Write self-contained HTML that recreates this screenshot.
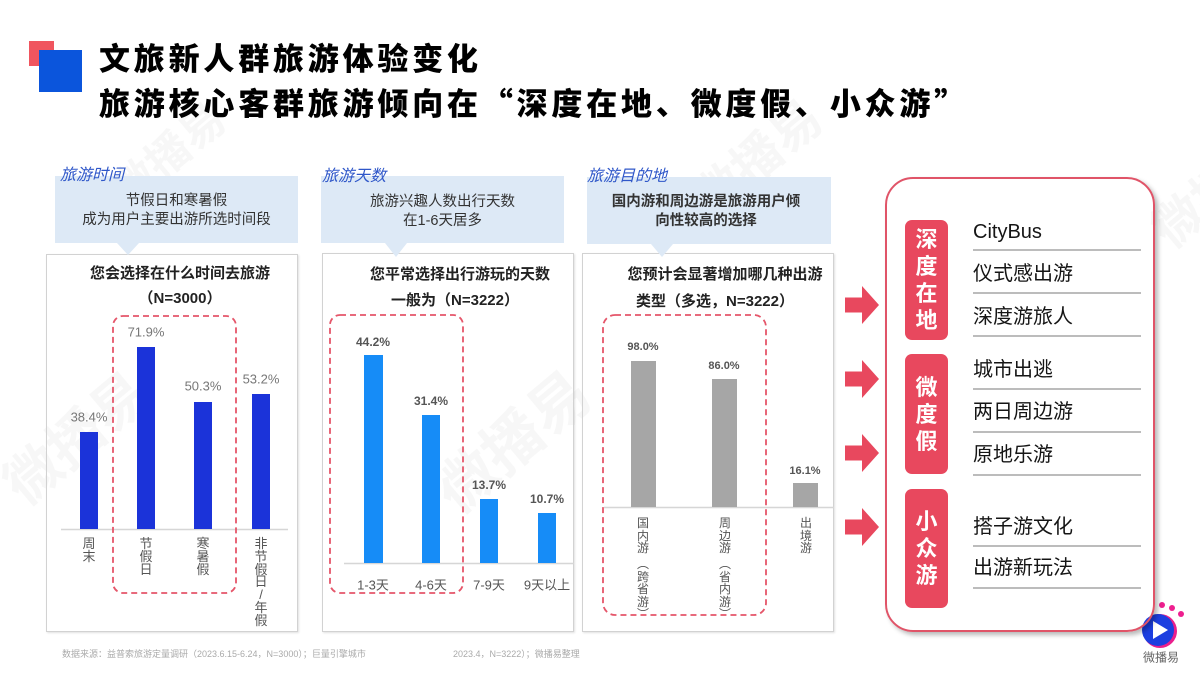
<!DOCTYPE html>
<html><head><meta charset="utf-8">
<style>
*{margin:0;padding:0;box-sizing:border-box}
html,body{width:1200px;height:675px;background:#fff;overflow:hidden}
body{position:relative;font-family:"Liberation Sans","Noto Sans CJK SC",sans-serif;color:#222}
.a{position:absolute;white-space:nowrap}
.c{position:absolute;white-space:nowrap;transform:translate(-50%,-50%)}
.title{position:absolute;left:99px;font-size:31px;font-weight:900;letter-spacing:3.8px;color:#000;line-height:36px;white-space:nowrap}
.q{font-family:"Noto Sans CJK SC",sans-serif}
.lab{position:absolute;font-size:16px;font-style:italic;color:#2f57c9;white-space:nowrap;line-height:20px}
.bbox{position:absolute;background:#dde9f6}
.btxt{position:absolute;font-size:14.5px;color:#333;text-align:center;line-height:19px;white-space:nowrap}
.cbox{position:absolute;border:1.5px solid #d2d2d2;box-shadow:1px 1px 2px rgba(0,0,0,0.12)}
.ct{position:absolute;font-size:15px;font-weight:bold;color:#222;text-align:center;white-space:nowrap;transform:translateX(-50%)}
.v{position:absolute;font-size:13px;color:#555;line-height:12.8px;width:16px;text-align:center;transform:translateX(-50%)}
.v3{position:absolute;font-size:12px;color:#555;line-height:12.5px;width:16px;text-align:center;transform:translateX(-50%)}
.d1{font-size:13px;color:#777}
.d2{font-size:12px;color:#555;font-weight:bold}
.d3{font-size:11px;color:#555;font-weight:bold}
.rbox{position:absolute;left:885px;top:177px;width:270px;height:455px;border:2px solid #e05468;border-radius:28px;box-shadow:3px 3px 5px rgba(0,0,0,0.28);background:transparent}
.tag{position:absolute;left:905px;width:43px;background:#e8485e;border-radius:7px;color:#fff;font-size:22px;font-weight:bold;display:flex;flex-direction:column;align-items:center;justify-content:center;line-height:27px}
.it{position:absolute;left:973px;font-size:20px;color:#151515;line-height:24px;white-space:nowrap}
.ul{position:absolute;left:973px;width:168px;height:2px;background:#bcbcbc}
.wm{position:absolute;color:rgba(0,0,0,0.03);font-weight:bold;white-space:nowrap;transform:rotate(-40deg)}
</style></head><body>

<!-- watermarks -->
<div class="wm" style="left:-10px;top:395px;font-size:56px">微播易</div>
<div class="wm" style="left:420px;top:395px;font-size:60px">微播易</div>
<div class="wm" style="left:680px;top:120px;font-size:50px">微播易</div>
<div class="wm" style="left:1140px;top:150px;font-size:50px">微播易</div>
<div class="wm" style="left:100px;top:120px;font-size:44px">微播易</div>

<!-- title -->
<div class="a" style="left:29px;top:41px;width:25px;height:25px;background:#f0555f"></div>
<div class="a" style="left:39px;top:50px;width:43px;height:42px;background:#0b55dc"></div>
<div class="title" style="top:42px">文旅新人群旅游体验变化</div>
<div class="title" style="top:84px">旅游核心客群旅游倾向在<span class="q">“</span>深度在地、微度假、小众游<span class="q">”</span></div>

<!-- panel 1 -->
<div class="bbox" style="left:55px;top:176px;width:243px;height:67px"></div>
<div class="lab" style="left:60px;top:166px">旅游时间</div>
<div class="btxt" style="left:55px;width:243px;top:192px">节假日和寒暑假<br>成为用户主要出游所选时间段</div>
<div class="cbox" style="left:46px;top:254px;width:252px;height:378px"></div>
<div class="ct" style="left:180px;top:262px">您会选择在什么时间去旅游</div>
<div class="ct" style="left:180px;top:287px">（N=3000）</div>

<!-- panel 2 -->
<div class="bbox" style="left:321px;top:176px;width:243px;height:67px"></div>
<div class="lab" style="left:322px;top:167px">旅游天数</div>
<div class="btxt" style="left:321px;width:243px;top:193px">旅游兴趣人数出行天数<br>在1-6天居多</div>
<div class="cbox" style="left:322px;top:253px;width:252px;height:379px"></div>
<div class="ct" style="left:460px;top:263px">您平常选择出行游玩的天数</div>
<div class="ct" style="left:455px;top:289px">一般为（N=3222）</div>

<!-- panel 3 -->
<div class="bbox" style="left:587px;top:177px;width:244px;height:67px"></div>
<div class="lab" style="left:587px;top:167px">旅游目的地</div>
<div class="btxt" style="left:587px;width:238px;top:193px;font-weight:bold;color:#333">国内游和周边游是旅游用户倾<br>向性较高的选择</div>
<div class="cbox" style="left:582px;top:253px;width:252px;height:379px"></div>
<div class="ct" style="left:725px;top:263px">您预计会显著增加哪几种出游</div>
<div class="ct" style="left:715px;top:290px">类型（多选，N=3222）</div>

<svg class="a" style="left:0;top:0" width="1200" height="675" viewBox="0 0 1200 675">
  <polygon points="117,243 139,243 128,255" fill="#dde9f6"/>
  <polygon points="385,243 407,243 396,257" fill="#dde9f6"/>
  <polygon points="651,244 673,244 662,257" fill="#dde9f6"/>
  <line x1="61" y1="529.5" x2="288" y2="529.5" stroke="#d6d6d6" stroke-width="1.5"/>
  <line x1="344" y1="563.5" x2="574" y2="563.5" stroke="#d6d6d6" stroke-width="1.5"/>
  <line x1="604" y1="507.5" x2="834" y2="507.5" stroke="#d6d6d6" stroke-width="1.5"/>
  <g fill="#1b33d9">
    <rect x="80" y="432" width="18" height="97"/>
    <rect x="137" y="347" width="18" height="182"/>
    <rect x="194" y="402" width="18" height="127"/>
    <rect x="252" y="394" width="18" height="135"/>
  </g>
  <g fill="#168cf7">
    <rect x="364" y="355" width="19" height="208"/>
    <rect x="422" y="415" width="18" height="148"/>
    <rect x="480" y="499" width="18" height="64"/>
    <rect x="538" y="513" width="18" height="50"/>
  </g>
  <g fill="#a6a6a6">
    <rect x="631" y="361" width="25" height="146"/>
    <rect x="712" y="379" width="25" height="128"/>
    <rect x="793" y="483" width="25" height="24"/>
  </g>
  <g fill="none" stroke="#e5566a" stroke-width="1.8" stroke-dasharray="6 4">
    <rect x="113" y="316" width="123" height="277" rx="10"/>
    <rect x="330" y="315" width="133" height="278" rx="10"/>
    <rect x="603" y="315" width="163" height="300" rx="12"/>
  </g>
  <g fill="#e8485e">
    <polygon points="845,297.5 862,297.5 862,286 879,305 862,324 862,312.5 845,312.5"/>
    <polygon points="845,371.5 862,371.5 862,360 879,379 862,398 862,386.5 845,386.5"/>
    <polygon points="845,445.5 862,445.5 862,434 879,453 862,472 862,460.5 845,460.5"/>
    <polygon points="845,519.5 862,519.5 862,508 879,527 862,546 862,534.5 845,534.5"/>
  </g>
  <circle cx="1160" cy="631" r="17" fill="#ea1f8c"/>
  <circle cx="1158" cy="630" r="16" fill="#1d3fe0"/>
  <polygon points="1153,621 1153,639 1168,630" fill="#fff"/>
  <circle cx="1162" cy="605" r="3" fill="#ee1f8f"/>
  <circle cx="1172" cy="608" r="3" fill="#ee1f8f"/>
  <circle cx="1181" cy="614" r="3" fill="#ee1f8f"/>
</svg>

<div class="c d1" style="left:89px;top:417px">38.4%</div>
<div class="c d1" style="left:146px;top:332px">71.9%</div>
<div class="c d1" style="left:203px;top:386px">50.3%</div>
<div class="c d1" style="left:261px;top:379px">53.2%</div>
<div class="v" style="left:89px;top:538px">周<br>末</div>
<div class="v" style="left:146px;top:538px">节<br>假<br>日</div>
<div class="v" style="left:203px;top:538px">寒<br>暑<br>假</div>
<div class="v" style="left:261px;top:538px">非<br>节<br>假<br>日<br>/<br>年<br>假</div>

<div class="c d2" style="left:373px;top:342px">44.2%</div>
<div class="c d2" style="left:431px;top:401px">31.4%</div>
<div class="c d2" style="left:489px;top:485px">13.7%</div>
<div class="c d2" style="left:547px;top:499px">10.7%</div>
<div class="c" style="left:373px;top:584px;font-size:13px;color:#555">1-3天</div>
<div class="c" style="left:431px;top:584px;font-size:13px;color:#555">4-6天</div>
<div class="c" style="left:489px;top:584px;font-size:13px;color:#555">7-9天</div>
<div class="c" style="left:547px;top:584px;font-size:13px;color:#555">9天以上</div>

<div class="c d3" style="left:643px;top:347px">98.0%</div>
<div class="c d3" style="left:724px;top:366px">86.0%</div>
<div class="c d3" style="left:805px;top:471px">16.1%</div>
<div class="v3" style="left:643px;top:517px">国<br>内<br>游</div>
<div class="v3" style="left:643px;top:558px">︵<br>跨<br>省<br>游<br>︶</div>
<div class="v3" style="left:725px;top:517px">周<br>边<br>游</div>
<div class="v3" style="left:725px;top:558px">︵<br>省<br>内<br>游<br>︶</div>
<div class="v3" style="left:806px;top:517px">出<br>境<br>游</div>

<div class="a" style="left:62px;top:647px;font-size:9px;color:#aaa">数据来源：益普索旅游定量调研（2023.6.15-6.24，N=3000）；巨量引擎城市</div>
<div class="a" style="left:453px;top:647px;font-size:9px;color:#aaa">2023.4，N=3222）；微播易整理</div>
<div class="c" style="left:1161px;top:657px;font-size:12px;color:#666">微播易</div>

<div class="rbox"></div>
<div class="tag" style="top:220px;height:120px"><span>深</span><span>度</span><span>在</span><span>地</span></div>
<div class="tag" style="top:354px;height:120px"><span>微</span><span>度</span><span>假</span></div>
<div class="tag" style="top:489px;height:119px"><span>小</span><span>众</span><span>游</span></div>

<div class="it" style="top:220px">CityBus</div>
<div class="ul" style="top:249px"></div>
<div class="it" style="top:262px">仪式感出游</div>
<div class="ul" style="top:292px"></div>
<div class="it" style="top:305px">深度游旅人</div>
<div class="ul" style="top:335px"></div>
<div class="it" style="top:358px">城市出逃</div>
<div class="ul" style="top:388px"></div>
<div class="it" style="top:400px">两日周边游</div>
<div class="ul" style="top:431px"></div>
<div class="it" style="top:443px">原地乐游</div>
<div class="ul" style="top:474px"></div>
<div class="it" style="top:515px">搭子游文化</div>
<div class="ul" style="top:545px"></div>
<div class="it" style="top:556px">出游新玩法</div>
<div class="ul" style="top:587px"></div>

</body></html>
